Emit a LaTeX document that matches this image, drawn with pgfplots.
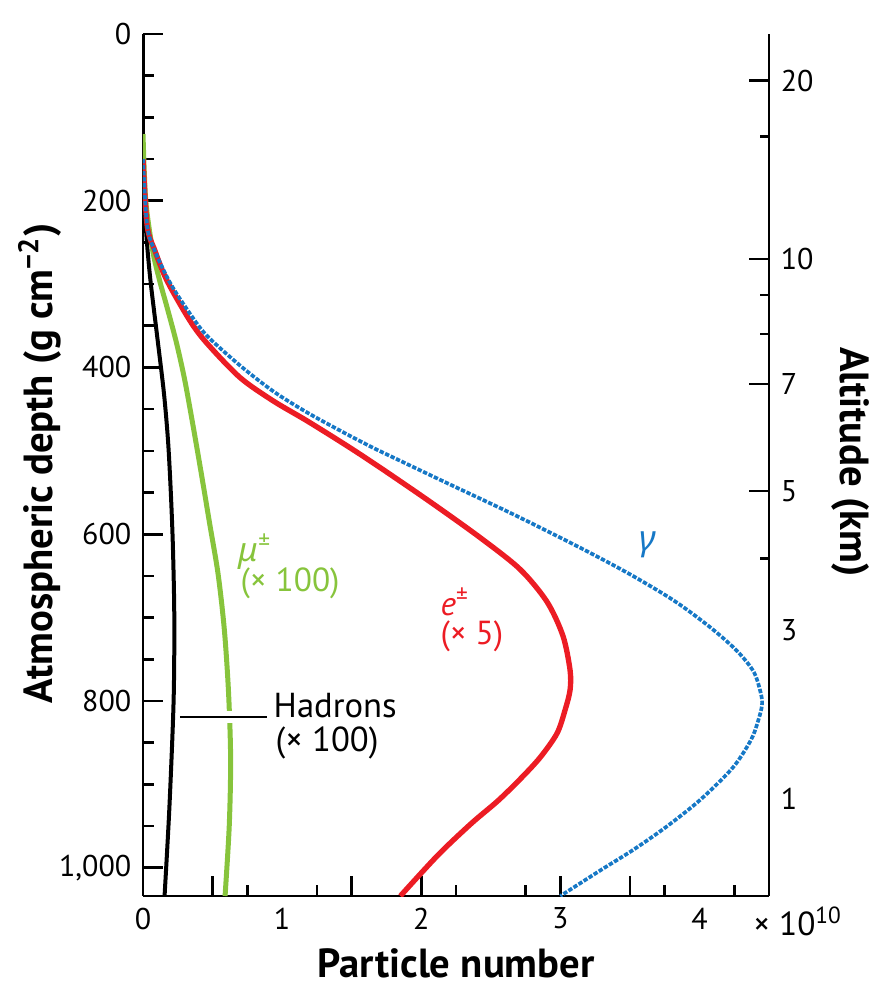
\documentclass[border=0pt]{standalone}
\usepackage{fontspec}
\setmainfont{PT Sans}
\newfontfamily\greekfont{Noto Sans}
\usepackage{pgfplots}
\usepackage{pgfplotstable}
\pgfplotsset{compat=1.18}

\definecolor{gammablue}{RGB}{22,120,198}
\definecolor{ered}{RGB}{236,28,36}
\definecolor{mugreen}{RGB}{135,196,60}

% particle number (x 10^10) vs atmospheric depth (g cm^-2)
\pgfplotstableread{
x d
0.00 150
0.03 230
0.09 262
0.20 300
0.34 336
0.46 362
0.70 398
0.94 429
1.18 454
1.42 476
1.65 496
1.85 512
2.19 539
2.66 576
3.14 616
3.50 648
3.82 680
4.08 712
4.27 740
4.39 765
4.44 790
4.45 805
4.42 825
4.37 847
4.24 880
4.01 918
3.77 950
3.53 978
3.29 1003
3.00 1034
}\gammatab

\pgfplotstableread{
x d
0.00 150
0.03 230
0.086 260
0.173 296
0.338 344
0.46 371
0.697 412
0.935 440
1.179 464
1.467 494
1.704 520
2.063 561
2.423 604
2.71 642
2.904 681
3.019 722
3.07 763
3.07 787
3.034 811
2.976 839
2.854 868
2.71 894
2.55 920
2.36 947
2.12 985
1.85 1034
}\etab

\pgfplotstableread{
x d
0.00 120
0.02 200
0.07 260
0.12 296
0.17 326
0.24 370
0.30 415
0.36 470
0.42 528
0.48 588
0.54 648
0.585 715
0.615 790
0.63 870
0.62 950
0.59 1034
}\mutab

\pgfplotstableread{
x d
0.00 0
0.00 150
0.02 230
0.05 290
0.10 360
0.15 430
0.18 488
0.20 550
0.215 615
0.225 700
0.22 800
0.19 927
0.155 1034
}\hadtab

\begin{document}
\begin{tikzpicture}
\useasboundingbox (-42.9pt,-26.4pt) rectangle (222pt,268.8pt);
\begin{axis}[
  at={(0,0)}, anchor=south west,
  scale only axis, width=187.8pt, height=258.6pt,
  xmin=0, xmax=4.5, ymin=0, ymax=1034, y dir=reverse,
  clip mode=individual,
  axis x line*=bottom, axis y line*=left,
  axis line style={line width=0.8pt, -},
  every tick/.style={black, line width=0.8pt},
  major tick length=6pt, minor tick length=3.2pt,
  tick align=inside,
  xtick={0.5,1.5,2,3,3.5}, xticklabels={,,2,3,},
  minor xtick={0.75,1.25,2.25,2.75,3.75,4.25},
  extra x ticks={0,1,4}, extra x tick labels={0,1,4},
  extra x tick style={major tick length=0pt},
  ytick={0,200,400,600,800,1000}, yticklabels={0,200,400,600,800,{1,000}},
  minor ytick={50,100,150,250,300,350,450,500,550,650,700,750,850,900,950},
  ticklabel style={font=\fontsize{9}{10}\selectfont},
  /pgf/number format/assume math mode=true,
]
\addplot[black, line width=1.2pt, smooth] table[x=x, y=d] {\hadtab};
\addplot[mugreen, line width=1.5pt, smooth] table[x=x, y=d] {\mutab};
\addplot[ered, line width=1.6pt, smooth] table[x=x, y=d] {\etab};
\addplot[gammablue, line width=1.1pt, smooth, dash pattern=on 1.3pt off 0.5pt] table[x=x, y=d] {\gammatab};

\draw[white, line width=3.5pt] (axis cs:0.54,819) -- (axis cs:0.71,819);
\draw[black, line width=0.6pt] (axis cs:0.266,819) -- (axis cs:0.89,819);

\node[gammablue, font=\fontsize{10.5}{12}\selectfont\greekfont\itshape] at (axis cs:3.63,613) {γ};
\node[mugreen, anchor=west, inner sep=0pt, font=\fontsize{10}{12}\selectfont] at (axis cs:0.683,621) {{\greekfont\itshape μ}\textsuperscript{±}};
\node[mugreen, anchor=west, inner sep=0pt, font=\fontsize{10}{12}\selectfont] at (axis cs:0.697,659) {(× 100)};
\node[ered, anchor=west, inner sep=0pt, font=\fontsize{10}{12}\selectfont] at (axis cs:2.135,681) {\textit{e}\textsuperscript{±}};
\node[ered, anchor=west, inner sep=0pt, font=\fontsize{10}{12}\selectfont] at (axis cs:2.135,723) {(× 5)};
\node[black, anchor=west, inner sep=0pt, font=\fontsize{10.4}{12}\selectfont] at (axis cs:0.935,806) {Hadrons};
\node[black, anchor=west, inner sep=0pt, font=\fontsize{10.4}{12}\selectfont] at (axis cs:0.949,850) {(× 100)};

\node[anchor=base, font=\fontsize{12.2}{14}\selectfont\bfseries] at (axis description cs:0.5,-0.094) {Particle number};
\node[rotate=90, font=\fontsize{12.2}{14}\selectfont\bfseries] at (axis description cs:-0.1645,0.502) {Atmospheric depth (g cm\textsuperscript{−2})};
\node[anchor=west, inner sep=0pt, font=\fontsize{10}{11}\selectfont] at (axis description cs:0.974,-0.029) {× 10\textsuperscript{10}};
\end{axis}

\begin{axis}[
  at={(0,0)}, anchor=south west,
  scale only axis, width=187.8pt, height=258.6pt,
  xmin=0, xmax=4.5, ymin=0, ymax=1034, y dir=reverse,
  clip mode=individual,
  axis y line*=right, axis x line=none,
  axis line style={line width=0.8pt, -},
  every tick/.style={black, line width=0.8pt},
  major tick length=6pt, minor tick length=2.8pt,
  tick align=inside,
  ytick={56,270,420,548}, yticklabels={20,10,7,5},
  minor ytick={123,313,360,629},
  extra y ticks={715,917}, extra y tick labels={3,1},
  extra y tick style={major tick length=0pt},
  ticklabel style={font=\fontsize{9}{10}\selectfont},
  /pgf/number format/assume math mode=true,
]
\node[rotate=-90, font=\fontsize{12.2}{14}\selectfont\bfseries] at (axis description cs:1.131,0.5035) {Altitude (km)};
\end{axis}
\end{tikzpicture}
\end{document}
